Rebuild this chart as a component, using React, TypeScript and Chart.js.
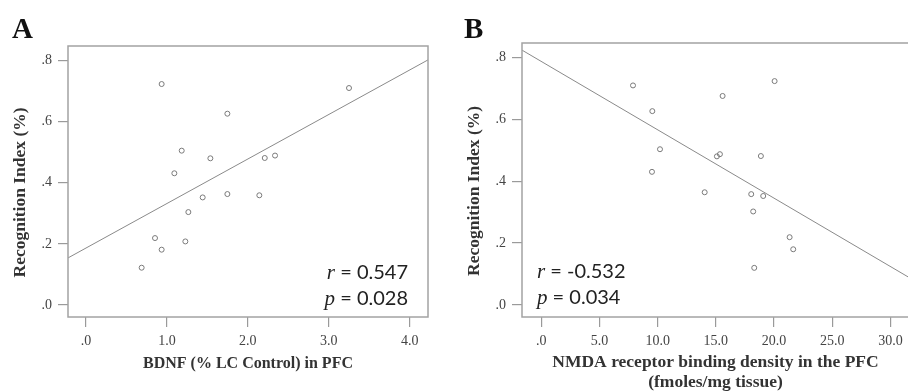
import React, { useEffect, useRef } from "react";
import { Chart, registerables } from "chart.js";

Chart.register(...registerables);

// Panel A: BDNF (% LC Control) in PFC vs Recognition Index
const bdnfX = [0.935, 3.25, 1.747, 1.183, 1.537, 1.092, 2.209, 2.336, 1.442, 1.747, 2.142, 1.265, 0.853, 0.935, 1.228, 0.688];
const bdnfY = [0.723, 0.710, 0.626, 0.505, 0.480, 0.431, 0.481, 0.489, 0.352, 0.363, 0.359, 0.304, 0.219, 0.181, 0.208, 0.122];
const fitAX = [-0.222, 4.226];
const fitAY = [0.154, 0.802];

// Panel B: NMDA receptor binding density vs Recognition Index
const nmdaX = [7.88, 9.54, 15.58, 20.05, 10.2, 9.51, 15.09, 15.35, 18.87, 14.04, 18.04, 19.07, 18.21, 21.34, 21.65, 18.3];
const nmdaY = [0.709, 0.626, 0.675, 0.723, 0.503, 0.43, 0.48, 0.487, 0.481, 0.364, 0.358, 0.352, 0.302, 0.219, 0.18, 0.12];
const fitBX = [-1.66, 31.6];
const fitBY = [0.823, 0.089];

const yTicks = [0, 0.2, 0.4, 0.6, 0.8];
const xTicksA = [0, 1, 2, 3, 4];
const xTicksB = [0, 5, 10, 15, 20, 25, 30];

const yTitle = "Recognition Index (%)";
const xTitleA = "BDNF (% LC Control) in PFC";
const xTitleB = ["NMDA receptor binding density in the PFC", "(fmoles/mg tissue)"];

const statsA = { r: "0.547", p: "0.028" };
const statsB = { r: "-0.532", p: "0.034" };

function fmt(v: number) {
  const s = Number(v).toFixed(1);
  return s.startsWith("0.") ? s.slice(1) : s;
}

type PanelCfg = {
  letter: string;
  xs: number[];
  ys: number[];
  fitX: number[];
  fitY: number[];
  xMin: number;
  xMax: number;
  yMin: number;
  yMax: number;
  xTicks: number[];
  xTitle: string | string[];
  xTitleSize: number;
  xTitleLH: number;
  xTitlePad: number;
  top: number;
  right: number;
  stats: { r: string; p: string };
  statAlign: "left" | "right";
  width: number;
};

const SERIF = '"Liberation Serif", "Times New Roman", serif';

function drawStat(ctx: CanvasRenderingContext2D, x: number, y: number, sym: string, rest: string, align: string) {
  const f1 = `italic 21px ${SERIF}`;
  const f2 = `20px Lato, "Open Sans", sans-serif`;
  ctx.font = f1;
  const w1 = ctx.measureText(sym).width;
  ctx.font = f2;
  const w2 = ctx.measureText(rest).width;
  const x0 = align === "right" ? x - w1 - w2 : x;
  ctx.textAlign = "left";
  ctx.textBaseline = "alphabetic";
  ctx.fillStyle = "#222";
  ctx.font = f1;
  ctx.fillText(sym, x0, y);
  ctx.font = f2;
  ctx.fillText(rest, x0 + w1, y);
}

function panelPlugin(p: PanelCfg) {
  return {
    id: "panelDeco" + p.letter,
    afterDraw(chart: any) {
      const ctx = chart.ctx as CanvasRenderingContext2D;
      const ca = chart.chartArea;
      ctx.save();
      ctx.strokeStyle = "#a3a3a3";
      ctx.lineWidth = 1.5;
      ctx.strokeRect(ca.left, ca.top, ca.right - ca.left, ca.bottom - ca.top);
      ctx.fillStyle = "#111";
      ctx.font = `bold 29px ${SERIF}`;
      ctx.textAlign = "left";
      ctx.textBaseline = "alphabetic";
      ctx.fillText(p.letter, p.letter === "A" ? 12 : 10, 38);
      if (p.statAlign === "right") {
        drawStat(ctx, ca.right - 20, ca.bottom - 38, "r", " = " + p.stats.r, "right");
        drawStat(ctx, ca.right - 20, ca.bottom - 12, "p", " = " + p.stats.p, "right");
      } else {
        drawStat(ctx, ca.left + 15, ca.bottom - 39, "r", " = " + p.stats.r, "left");
        drawStat(ctx, ca.left + 15, ca.bottom - 13, "p", " = " + p.stats.p, "left");
      }
      ctx.restore();
    },
  };
}

function buildConfig(p: PanelCfg): any {
  const gridOpts = { drawOnChartArea: false, drawTicks: true, tickLength: 10, color: "#9a9a9a", lineWidth: 1.2 };
  return {
    type: "scatter",
    data: {
      datasets: [
        {
          data: p.xs.map((x, i) => ({ x, y: p.ys[i] })),
          pointRadius: 2.5,
          pointBorderColor: "#7a7a7a",
          pointBackgroundColor: "rgba(255,255,255,0)",
          pointBorderWidth: 1,
          showLine: false,
        },
        {
          data: p.fitX.map((x, i) => ({ x, y: p.fitY[i] })),
          showLine: true,
          pointRadius: 0,
          borderColor: "#8a8a8a",
          borderWidth: 1,
          fill: false,
        },
      ],
    },
    options: {
      responsive: false,
      animation: false,
      devicePixelRatio: 1,
      layout: { padding: { left: 0, top: p.top, right: p.right, bottom: 0 } },
      plugins: { legend: { display: false }, tooltip: { enabled: false } },
      scales: {
        x: {
          type: "linear",
          min: p.xMin,
          max: p.xMax,
          afterBuildTicks: (s: any) => {
            s.ticks = p.xTicks.map((v) => ({ value: v }));
          },
          afterFit: (s: any) => {
            s.height = 75;
          },
          grid: gridOpts,
          border: { display: false },
          ticks: {
            padding: 6,
            autoSkip: false,
            maxRotation: 0,
            font: { family: SERIF, size: 14 },
            color: "#444",
            callback: (v: any) => fmt(v),
          },
          title: {
            display: true,
            text: p.xTitle,
            color: "#333",
            font: { family: SERIF, size: p.xTitleSize, weight: "bold", lineHeight: p.xTitleLH },
            padding: { top: 0, bottom: p.xTitlePad },
          },
        },
        y: {
          type: "linear",
          min: p.yMin,
          max: p.yMax,
          afterBuildTicks: (s: any) => {
            s.ticks = yTicks.map((v) => ({ value: v }));
          },
          afterFit: (s: any) => {
            s.width = 68;
          },
          grid: gridOpts,
          border: { display: false },
          ticks: {
            padding: 6,
            autoSkip: false,
            font: { family: SERIF, size: 14 },
            color: "#444",
            callback: (v: any) => fmt(v),
          },
          title: {
            display: true,
            text: yTitle + "\u00a0\u00a0\u00a0\u00a0\u00a0",
            color: "#333",
            font: { family: SERIF, size: 17.5, weight: "bold", lineHeight: 1.15 },
            padding: { top: 10, bottom: 0 },
          },
        },
      },
    },
    plugins: [panelPlugin(p)],
  };
}

function Panel({ cfg, left }: { cfg: PanelCfg; left: number }) {
  const ref = useRef<HTMLCanvasElement>(null);
  useEffect(() => {
    if (!ref.current) return;
    const chart = new Chart(ref.current, buildConfig(cfg));
    return () => chart.destroy();
  }, []);
  return (
    <canvas
      ref={ref}
      width={cfg.width}
      height={392}
      style={{ position: "absolute", left, top: 0, width: cfg.width, height: 392 }}
    />
  );
}

const panelA: PanelCfg = {
  letter: "A",
  xs: bdnfX,
  ys: bdnfY,
  fitX: fitAX,
  fitY: fitAY,
  xMin: -0.222,
  xMax: 4.226,
  yMin: -0.0393,
  yMax: 0.8475,
  xTicks: xTicksA,
  xTitle: xTitleA,
  xTitleSize: 16,
  xTitleLH: 1.25,
  xTitlePad: 18,
  top: 46,
  right: 26,
  stats: statsA,
  statAlign: "right",
  width: 454,
};

const panelB: PanelCfg = {
  letter: "B",
  xs: nmdaX,
  ys: nmdaY,
  fitX: fitBX,
  fitY: fitBY,
  xMin: -1.66,
  xMax: 31.6,
  yMin: -0.0387,
  yMax: 0.846,
  xTicks: xTicksB,
  xTitle: xTitleB,
  xTitleSize: 17.5,
  xTitleLH: 20 / 17.5,
  xTitlePad: 0,
  top: 43,
  right: 26,
  stats: statsB,
  statAlign: "left",
  width: 481,
};

export default function App() {
  return (
    <div
      style={{
        position: "fixed",
        left: 0,
        top: 0,
        width: 908,
        height: 392,
        overflow: "hidden",
        background: "#fff",
      }}
    >
      <Panel cfg={panelA} left={0} />
      <Panel cfg={panelB} left={454} />
    </div>
  );
}
